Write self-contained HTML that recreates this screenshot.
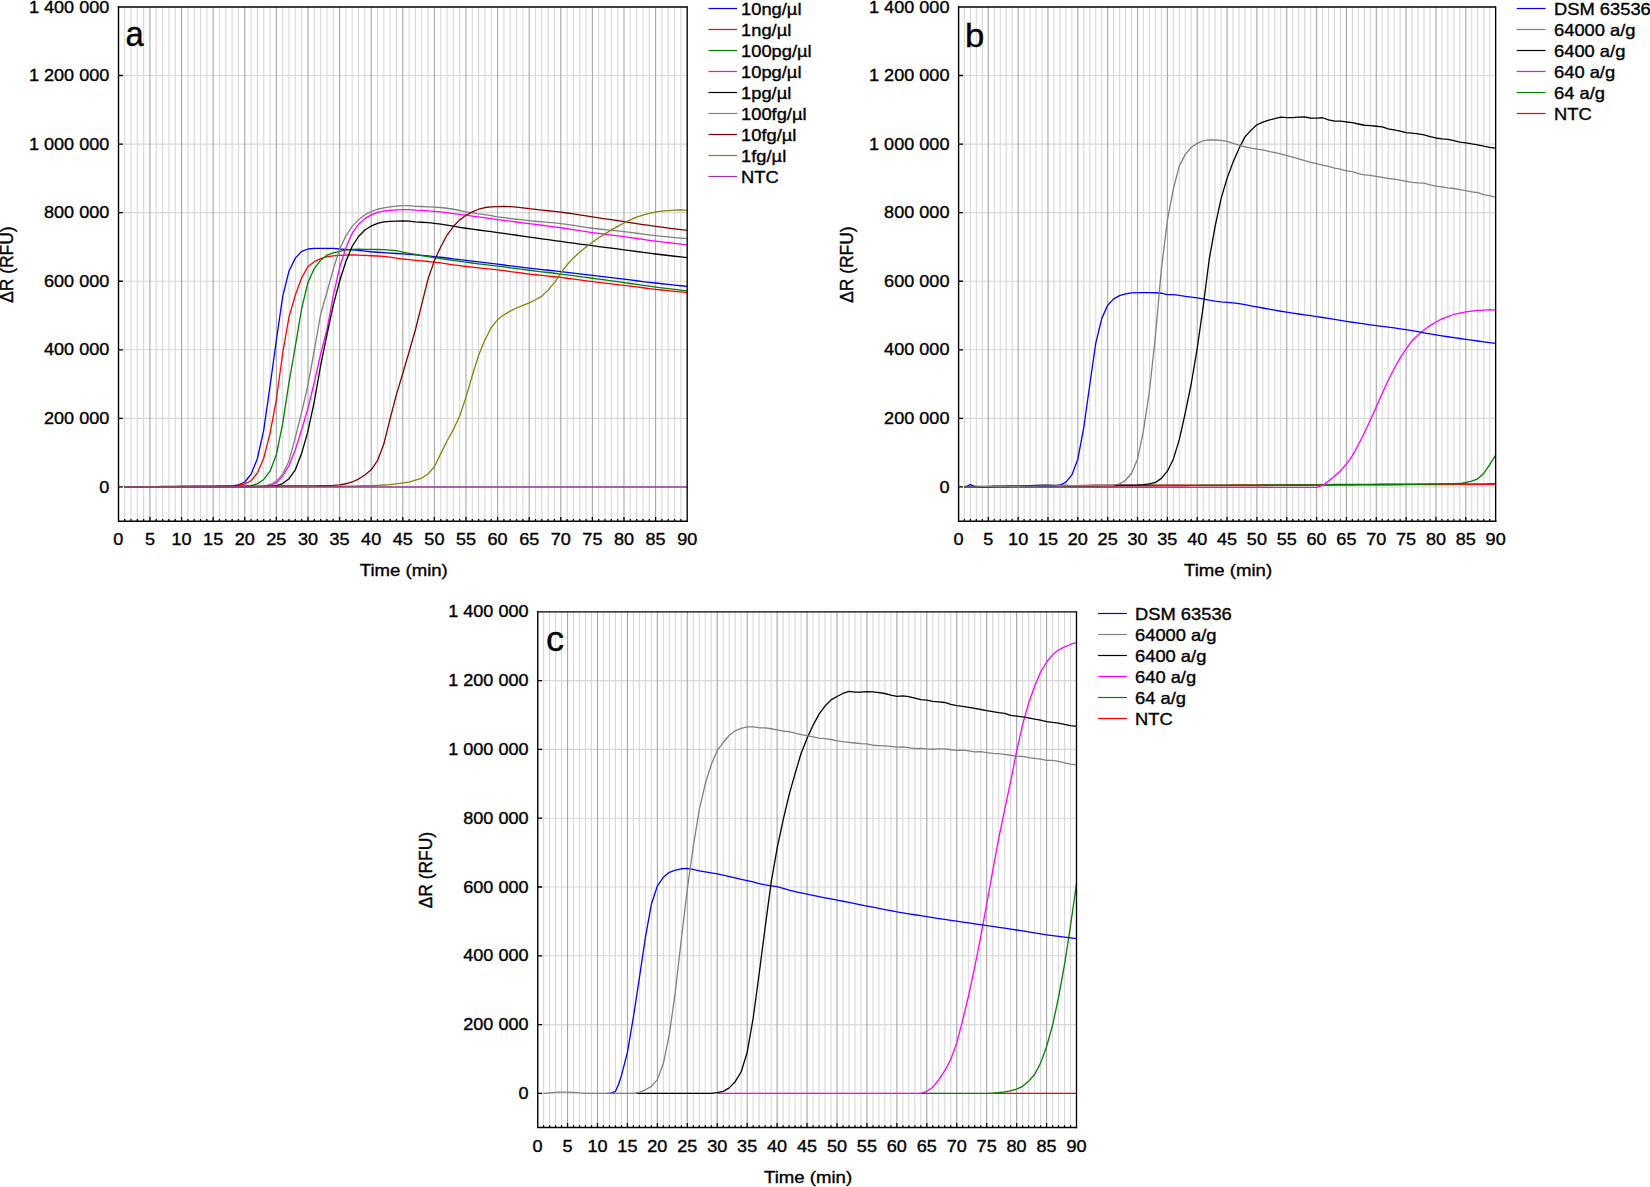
<!DOCTYPE html>
<html><head><meta charset="utf-8"><title>Figure</title>
<style>
html,body{margin:0;padding:0;background:#fff;}
body{width:1650px;height:1187px;overflow:hidden;}
svg{display:block;font-family:"Liberation Sans",Arial,Helvetica,sans-serif;fill:#000;}
text{stroke:#000;stroke-width:0.35px;}
</style></head><body>
<svg width="1650" height="1187" viewBox="0 0 1650 1187">
<rect width="1650" height="1187" fill="#fff"/>
<path d="M124.67 6.95V521.3M130.99 6.95V521.3M137.31 6.95V521.3M143.63 6.95V521.3M156.27 6.95V521.3M162.59 6.95V521.3M168.91 6.95V521.3M175.24 6.95V521.3M187.88 6.95V521.3M194.2 6.95V521.3M200.52 6.95V521.3M206.84 6.95V521.3M219.48 6.95V521.3M225.8 6.95V521.3M232.12 6.95V521.3M238.44 6.95V521.3M251.08 6.95V521.3M257.4 6.95V521.3M263.72 6.95V521.3M270.04 6.95V521.3M282.68 6.95V521.3M289 6.95V521.3M295.33 6.95V521.3M301.65 6.95V521.3M314.29 6.95V521.3M320.61 6.95V521.3M326.93 6.95V521.3M333.25 6.95V521.3M345.89 6.95V521.3M352.21 6.95V521.3M358.53 6.95V521.3M364.85 6.95V521.3M377.49 6.95V521.3M383.81 6.95V521.3M390.13 6.95V521.3M396.45 6.95V521.3M409.1 6.95V521.3M415.42 6.95V521.3M421.74 6.95V521.3M428.06 6.95V521.3M440.7 6.95V521.3M447.02 6.95V521.3M453.34 6.95V521.3M459.66 6.95V521.3M472.3 6.95V521.3M478.62 6.95V521.3M484.94 6.95V521.3M491.26 6.95V521.3M503.9 6.95V521.3M510.22 6.95V521.3M516.55 6.95V521.3M522.87 6.95V521.3M535.51 6.95V521.3M541.83 6.95V521.3M548.15 6.95V521.3M554.47 6.95V521.3M567.11 6.95V521.3M573.43 6.95V521.3M579.75 6.95V521.3M586.07 6.95V521.3M598.71 6.95V521.3M605.03 6.95V521.3M611.35 6.95V521.3M617.67 6.95V521.3M630.32 6.95V521.3M636.64 6.95V521.3M642.96 6.95V521.3M649.28 6.95V521.3M661.92 6.95V521.3M668.24 6.95V521.3M674.56 6.95V521.3M680.88 6.95V521.3" stroke="#d8d8d8" stroke-width="1.1" fill="none"/>
<path d="M118.35 486.95H687.2M118.35 418.38H687.2M118.35 349.81H687.2M118.35 281.24H687.2M118.35 212.66H687.2M118.35 144.09H687.2M118.35 75.52H687.2" stroke="#d8d8d8" stroke-width="1.1" fill="none"/>
<path d="M149.95 6.95V521.3M181.56 6.95V521.3M213.16 6.95V521.3M244.76 6.95V521.3M276.36 6.95V521.3M307.97 6.95V521.3M339.57 6.95V521.3M371.17 6.95V521.3M402.77 6.95V521.3M434.38 6.95V521.3M465.98 6.95V521.3M497.58 6.95V521.3M529.19 6.95V521.3M560.79 6.95V521.3M592.39 6.95V521.3M623.99 6.95V521.3M655.6 6.95V521.3" stroke="#a6a6a6" stroke-width="1.1" fill="none"/>
<g fill="none" stroke-width="1.3" stroke-linejoin="round" stroke-linecap="butt">
<path d="M124.67 486.95L130.99 486.95L137.31 486.94L143.63 486.93L149.95 486.91L156.27 486.89L162.59 486.86L168.91 486.84L175.24 486.81L181.56 486.78L187.88 486.75L194.2 486.71L200.52 486.66L206.84 486.6L213.16 486.53L219.48 486.44L225.8 486.26L232.12 485.92L238.44 484.89L244.76 481.98L251.08 474.26L257.4 458.49L263.72 430.04L270.04 386.15L276.36 340.21L282.68 296.66L289 270.95L295.33 258.09L301.65 251.41L307.97 249.01L314.29 248.32L320.61 248.32L326.93 248.32L333.25 248.32L339.57 249.01L345.89 249.41L352.21 249.8L358.53 250.4L364.85 251.11L371.17 251.75L377.49 252.24L383.81 252.68L390.13 253.08L396.45 253.5L402.77 253.94L409.1 254.42L415.42 254.9L421.74 255.41L428.06 255.96L434.38 256.55L440.7 257.23L447.02 258.01L453.34 258.83L459.66 259.66L465.98 260.46L472.3 261.21L478.62 261.95L484.94 262.69L491.26 263.43L497.58 264.2L503.9 264.99L510.22 265.81L516.55 266.63L522.87 267.44L529.19 268.21L535.51 268.92L541.83 269.6L548.15 270.27L554.47 270.94L560.79 271.64L567.11 272.37L573.43 273.12L579.75 273.88L586.07 274.65L592.39 275.41L598.71 276.16L605.03 276.91L611.35 277.67L617.67 278.42L623.99 279.18L630.32 279.95L636.64 280.73L642.96 281.52L649.28 282.28L655.6 283.02L661.92 283.73L668.24 284.42L674.56 285.09L680.88 285.74L687.2 286.38" stroke="#0000ff"/>
<path d="M124.67 486.95L130.99 486.92L137.31 486.89L143.63 486.86L149.95 486.82L156.27 486.78L162.59 486.74L168.91 486.7L175.24 486.65L181.56 486.61L187.88 486.56L194.2 486.52L200.52 486.47L206.84 486.42L213.16 486.35L219.48 486.26L225.8 486.14L232.12 485.92L238.44 485.24L244.76 483.86L251.08 480.78L257.4 472.89L263.72 458.15L270.04 433.29L276.36 399.52L282.68 353.24L289 316.89L295.33 294.95L301.65 277.81L307.97 266.49L314.29 261.69L320.61 258.61L326.93 256.72L333.25 255.86L339.57 255.35L345.89 255.07L352.21 254.94L358.53 255.08L364.85 255.4L371.17 255.73L377.49 256L383.81 256.34L390.13 257.07L396.45 258.09L402.77 259.02L409.1 259.71L415.42 260.32L421.74 260.9L428.06 261.5L434.38 262.17L440.7 262.97L447.02 263.85L453.34 264.77L459.66 265.67L465.98 266.49L472.3 267.22L478.62 267.89L484.94 268.54L491.26 269.21L497.58 269.92L503.9 270.71L510.22 271.55L516.55 272.41L522.87 273.25L529.19 274.04L535.51 274.75L541.83 275.42L548.15 276.07L554.47 276.75L560.79 277.46L567.11 278.26L573.43 279.1L579.75 279.97L586.07 280.83L592.39 281.65L598.71 282.41L605.03 283.15L611.35 283.87L617.67 284.6L623.99 285.35L630.32 286.13L636.64 286.95L642.96 287.76L649.28 288.55L655.6 289.29L661.92 289.99L668.24 290.67L674.56 291.33L680.88 291.95L687.2 292.55" stroke="#ff0000"/>
<path d="M124.67 486.95L130.99 486.93L137.31 486.91L143.63 486.9L149.95 486.88L156.27 486.86L162.59 486.84L168.91 486.82L175.24 486.8L181.56 486.78L187.88 486.76L194.2 486.75L200.52 486.73L206.84 486.72L213.16 486.7L219.48 486.68L225.8 486.65L232.12 486.61L238.44 486.5L244.76 486.26L251.08 485.58L257.4 483.86L263.72 479.41L270.04 471.18L276.36 454.72L282.68 423.69L289 382.38L295.33 346.38L301.65 308.49L307.97 282.44L314.29 268.55L320.61 260.15L326.93 255.18L333.25 252.92L339.57 251.27L345.89 250.14L352.21 249.52L358.53 249.25L364.85 249.28L371.17 249.35L377.49 249.48L383.81 249.69L390.13 250.07L396.45 250.72L402.77 252.09L409.1 253.3L415.42 254.44L421.74 255.53L428.06 256.57L434.38 257.58L440.7 258.56L447.02 259.51L453.34 260.42L459.66 261.31L465.98 262.17L472.3 263L478.62 263.8L484.94 264.58L491.26 265.36L497.58 266.15L503.9 266.97L510.22 267.8L516.55 268.64L522.87 269.46L529.19 270.26L535.51 271.03L541.83 271.78L548.15 272.51L554.47 273.26L560.79 274.04L567.11 274.85L573.43 275.68L579.75 276.53L586.07 277.39L592.39 278.25L598.71 279.11L605.03 279.98L611.35 280.85L617.67 281.73L623.99 282.61L630.32 283.5L636.64 284.42L642.96 285.33L649.28 286.22L655.6 287.06L661.92 287.87L668.24 288.65L674.56 289.41L680.88 290.14L687.2 290.84" stroke="#008000"/>
<path d="M124.67 486.95L130.99 486.95L137.31 486.95L143.63 486.95L149.95 486.94L156.27 486.94L162.59 486.94L168.91 486.93L175.24 486.93L181.56 486.92L187.88 486.91L194.2 486.9L200.52 486.89L206.84 486.88L213.16 486.87L219.48 486.85L225.8 486.84L232.12 486.82L238.44 486.8L244.76 486.78L251.08 486.71L257.4 486.54L263.72 486.26L270.04 485.24L276.36 482.84L282.68 475.98L289 465.69L295.33 449.58L301.65 429.69L307.97 408.26L314.29 382.38L320.61 354.26L326.93 329.75L333.25 295.98L339.57 267.52L345.89 247.81L352.21 233.24L358.53 224.32L364.85 218.63L371.17 214.82L377.49 212.32L383.81 211.02L390.13 210.37L396.45 209.92L402.77 209.61L409.1 209.61L415.42 210.13L421.74 210.44L428.06 210.78L434.38 211.29L440.7 211.95L447.02 212.7L453.34 213.52L459.66 214.36L465.98 215.2L472.3 216.04L478.62 216.91L484.94 217.79L491.26 218.66L497.58 219.52L503.9 220.36L510.22 221.18L516.55 222L522.87 222.82L529.19 223.64L535.51 224.45L541.83 225.25L548.15 226.06L554.47 226.89L560.79 227.75L567.11 228.67L573.43 229.65L579.75 230.64L586.07 231.62L592.39 232.55L598.71 233.42L605.03 234.25L611.35 235.07L617.67 235.89L623.99 236.73L630.32 237.61L636.64 238.5L642.96 239.4L649.28 240.28L655.6 241.12L661.92 241.92L668.24 242.7L674.56 243.46L680.88 244.19L687.2 244.89" stroke="#ff00ff"/>
<path d="M124.67 486.95L130.99 486.95L137.31 486.95L143.63 486.95L149.95 486.95L156.27 486.94L162.59 486.94L168.91 486.94L175.24 486.93L181.56 486.93L187.88 486.92L194.2 486.92L200.52 486.91L206.84 486.9L213.16 486.89L219.48 486.88L225.8 486.86L232.12 486.85L238.44 486.83L244.76 486.82L251.08 486.8L257.4 486.78L263.72 486.65L270.04 486.31L276.36 485.75L282.68 483.52L289 478.72L295.33 469.81L301.65 453.35L307.97 431.06L314.29 401.58L320.61 365.58L326.93 334.82L333.25 305.41L339.57 281.24L345.89 261.52L352.21 246.26L358.53 236.49L364.85 229.98L371.17 226.04L377.49 223.46L383.81 221.92L390.13 221.3L396.45 221.03L402.77 220.93L409.1 221.03L415.42 221.92L421.74 222.26L428.06 222.71L434.38 223.29L440.7 224.11L447.02 225.1L453.34 226.18L459.66 227.27L465.98 228.26L472.3 229.16L478.62 230.01L484.94 230.85L491.26 231.69L497.58 232.55L503.9 233.44L510.22 234.35L516.55 235.26L522.87 236.18L529.19 237.08L535.51 237.96L541.83 238.85L548.15 239.73L554.47 240.6L560.79 241.46L567.11 242.33L573.43 243.18L579.75 244.03L586.07 244.88L592.39 245.72L598.71 246.54L605.03 247.35L611.35 248.16L617.67 248.97L623.99 249.8L630.32 250.64L636.64 251.51L642.96 252.37L649.28 253.21L655.6 254.01L661.92 254.77L668.24 255.51L674.56 256.23L680.88 256.92L687.2 257.58" stroke="#000000"/>
<path d="M124.67 486.95L130.99 486.95L137.31 486.95L143.63 486.95L149.95 486.94L156.27 486.94L162.59 486.94L168.91 486.93L175.24 486.93L181.56 486.92L187.88 486.91L194.2 486.9L200.52 486.89L206.84 486.88L213.16 486.87L219.48 486.85L225.8 486.84L232.12 486.82L238.44 486.8L244.76 486.78L251.08 486.71L257.4 486.55L263.72 486.26L270.04 484.72L276.36 481.12L282.68 474.09L289 461.06L295.33 437.41L301.65 412.38L307.97 384.78L314.29 350.49L320.61 314.49L326.93 292.21L333.25 269.24L339.57 249.52L345.89 235.77L352.21 226.38L358.53 219.86L364.85 214.82L371.17 211.64L377.49 209.24L383.81 207.86L390.13 206.84L396.45 206.15L402.77 205.57L409.1 205.57L415.42 206.32L421.74 206.49L428.06 206.84L434.38 207.18L440.7 207.52L447.02 208.24L453.34 209.24L459.66 210.49L465.98 211.81L472.3 212.89L478.62 213.86L484.94 214.68L491.26 215.54L497.58 216.78L503.9 217.71L510.22 218.52L516.55 219.26L522.87 219.95L529.19 220.62L535.51 221.25L541.83 221.82L548.15 222.37L554.47 222.96L560.79 223.64L567.11 224.46L573.43 225.42L579.75 226.42L586.07 227.4L592.39 228.26L598.71 229L605.03 229.67L611.35 230.31L617.67 230.96L623.99 231.66L630.32 232.43L636.64 233.25L642.96 234.09L649.28 234.89L655.6 235.64L661.92 236.32L668.24 236.97L674.56 237.59L680.88 238.17L687.2 238.72" stroke="#808080"/>
<path d="M124.67 486.95L130.99 486.86L137.31 486.77L143.63 486.69L149.95 486.61L156.27 486.53L162.59 486.45L168.91 486.37L175.24 486.31L181.56 486.26L187.88 486.24L194.2 486.21L200.52 486.19L206.84 486.18L213.16 486.16L219.48 486.15L225.8 486.14L232.12 486.12L238.44 486.11L244.76 486.09L251.08 486.08L257.4 486.06L263.72 486.05L270.04 486.04L276.36 486.03L282.68 486.01L289 486L295.33 485.98L301.65 485.95L307.97 485.92L314.29 485.86L320.61 485.74L326.93 485.58L333.25 485.33L339.57 484.89L345.89 483.76L352.21 481.98L358.53 479.06L364.85 474.95L371.17 469.81L377.49 460.72L383.81 444.09L390.13 418.55L396.45 394.38L402.77 373.46L409.1 351.86L415.42 329.75L421.74 304.34L428.06 278.94L434.38 260.66L440.7 246.95L447.02 235.05L453.34 226.55L459.66 219.86L465.98 215.2L472.3 211.81L478.62 209.24L484.94 207.52L491.26 206.84L497.58 206.56L503.9 206.49L510.22 206.66L516.55 207.18L522.87 207.86L529.19 208.72L535.51 209.43L541.83 210.09L548.15 210.76L554.47 211.42L560.79 212.15L567.11 213L573.43 213.94L579.75 214.94L586.07 215.94L592.39 216.92L598.71 217.85L605.03 218.78L611.35 219.71L617.67 220.64L623.99 221.58L630.32 222.55L636.64 223.54L642.96 224.52L649.28 225.48L655.6 226.38L661.92 227.23L668.24 228.04L674.56 228.83L680.88 229.58L687.2 230.29" stroke="#800000"/>
<path d="M124.67 486.95L130.99 486.95L137.31 486.95L143.63 486.94L149.95 486.94L156.27 486.93L162.59 486.93L168.91 486.92L175.24 486.91L181.56 486.9L187.88 486.89L194.2 486.88L200.52 486.87L206.84 486.86L213.16 486.85L219.48 486.83L225.8 486.82L232.12 486.81L238.44 486.79L244.76 486.78L251.08 486.76L257.4 486.75L263.72 486.73L270.04 486.7L276.36 486.68L282.68 486.65L289 486.62L295.33 486.59L301.65 486.56L307.97 486.52L314.29 486.47L320.61 486.43L326.93 486.38L333.25 486.32L339.57 486.26L345.89 486.19L352.21 486.08L358.53 485.94L364.85 485.77L371.17 485.58L377.49 485.33L383.81 484.99L390.13 484.55L396.45 483.79L402.77 482.9L409.1 482.22L415.42 480.2L421.74 478.04L428.06 473.92L434.38 466.72L440.7 453.86L447.02 441.01L453.34 429.69L459.66 416.08L465.98 397.12L472.3 375.52L478.62 355.29L484.94 339.86L491.26 327.52L497.58 319.81L503.9 314.84L510.22 311.06L516.55 307.98L522.87 305.41L529.19 302.84L535.51 299.75L541.83 296.08L548.15 290.15L554.47 282.61L560.79 273.18L567.11 264.78L573.43 257.92L579.75 252.09L586.07 246.95L592.39 242.32L598.71 237.69L605.03 233.92L611.35 229.94L617.67 226.38L623.99 222.95L630.32 219.86L636.64 217.22L642.96 215.06L649.28 213.35L655.6 211.81L661.92 211.12L668.24 210.61L674.56 210.13L680.88 209.78L687.2 210.47" stroke="#84840a"/>
<path d="M124.67 486.95L687.2 486.95" stroke="#9c329c" stroke-width="1.65"/>
</g>
<path d="M118.5 6.95H687.2V521.3" stroke="#000" stroke-width="1.35" fill="none" stroke-linecap="square"/>
<path d="M118.5 6.95V521.3H687.2" stroke="#000" stroke-width="1.4" fill="none" stroke-linecap="square"/>
<path d="M118.5 486.95h4.4M118.5 418.38h4.4M118.5 349.81h4.4M118.5 281.24h4.4M118.5 212.66h4.4M118.5 144.09h4.4M118.5 75.52h4.4M124.67 521.3v-2.3M130.99 521.3v-2.3M137.31 521.3v-2.3M143.63 521.3v-2.3M149.95 521.3v-4.4M156.27 521.3v-2.3M162.59 521.3v-2.3M168.91 521.3v-2.3M175.24 521.3v-2.3M181.56 521.3v-4.4M187.88 521.3v-2.3M194.2 521.3v-2.3M200.52 521.3v-2.3M206.84 521.3v-2.3M213.16 521.3v-4.4M219.48 521.3v-2.3M225.8 521.3v-2.3M232.12 521.3v-2.3M238.44 521.3v-2.3M244.76 521.3v-4.4M251.08 521.3v-2.3M257.4 521.3v-2.3M263.72 521.3v-2.3M270.04 521.3v-2.3M276.36 521.3v-4.4M282.68 521.3v-2.3M289 521.3v-2.3M295.33 521.3v-2.3M301.65 521.3v-2.3M307.97 521.3v-4.4M314.29 521.3v-2.3M320.61 521.3v-2.3M326.93 521.3v-2.3M333.25 521.3v-2.3M339.57 521.3v-4.4M345.89 521.3v-2.3M352.21 521.3v-2.3M358.53 521.3v-2.3M364.85 521.3v-2.3M371.17 521.3v-4.4M377.49 521.3v-2.3M383.81 521.3v-2.3M390.13 521.3v-2.3M396.45 521.3v-2.3M402.77 521.3v-4.4M409.1 521.3v-2.3M415.42 521.3v-2.3M421.74 521.3v-2.3M428.06 521.3v-2.3M434.38 521.3v-4.4M440.7 521.3v-2.3M447.02 521.3v-2.3M453.34 521.3v-2.3M459.66 521.3v-2.3M465.98 521.3v-4.4M472.3 521.3v-2.3M478.62 521.3v-2.3M484.94 521.3v-2.3M491.26 521.3v-2.3M497.58 521.3v-4.4M503.9 521.3v-2.3M510.22 521.3v-2.3M516.55 521.3v-2.3M522.87 521.3v-2.3M529.19 521.3v-4.4M535.51 521.3v-2.3M541.83 521.3v-2.3M548.15 521.3v-2.3M554.47 521.3v-2.3M560.79 521.3v-4.4M567.11 521.3v-2.3M573.43 521.3v-2.3M579.75 521.3v-2.3M586.07 521.3v-2.3M592.39 521.3v-4.4M598.71 521.3v-2.3M605.03 521.3v-2.3M611.35 521.3v-2.3M617.67 521.3v-2.3M623.99 521.3v-4.4M630.32 521.3v-2.3M636.64 521.3v-2.3M642.96 521.3v-2.3M649.28 521.3v-2.3M655.6 521.3v-4.4M661.92 521.3v-2.3M668.24 521.3v-2.3M674.56 521.3v-2.3M680.88 521.3v-2.3" stroke="#000" stroke-width="1.3" fill="none"/>
<text transform="translate(109.35 492.55) scale(1.07 1)" font-size="16.9" text-anchor="end">0</text>
<text transform="translate(109.35 423.98) scale(1.07 1)" font-size="16.9" text-anchor="end">200 000</text>
<text transform="translate(109.35 355.41) scale(1.07 1)" font-size="16.9" text-anchor="end">400 000</text>
<text transform="translate(109.35 286.84) scale(1.07 1)" font-size="16.9" text-anchor="end">600 000</text>
<text transform="translate(109.35 218.26) scale(1.07 1)" font-size="16.9" text-anchor="end">800 000</text>
<text transform="translate(109.35 149.69) scale(1.07 1)" font-size="16.9" text-anchor="end">1 000 000</text>
<text transform="translate(109.35 81.12) scale(1.07 1)" font-size="16.9" text-anchor="end">1 200 000</text>
<text transform="translate(109.35 12.55) scale(1.07 1)" font-size="16.9" text-anchor="end">1 400 000</text>
<text transform="translate(118.35 545.3) scale(1.07 1)" font-size="16.9" text-anchor="middle">0</text>
<text transform="translate(149.95 545.3) scale(1.07 1)" font-size="16.9" text-anchor="middle">5</text>
<text transform="translate(181.56 545.3) scale(1.07 1)" font-size="16.9" text-anchor="middle">10</text>
<text transform="translate(213.16 545.3) scale(1.07 1)" font-size="16.9" text-anchor="middle">15</text>
<text transform="translate(244.76 545.3) scale(1.07 1)" font-size="16.9" text-anchor="middle">20</text>
<text transform="translate(276.36 545.3) scale(1.07 1)" font-size="16.9" text-anchor="middle">25</text>
<text transform="translate(307.97 545.3) scale(1.07 1)" font-size="16.9" text-anchor="middle">30</text>
<text transform="translate(339.57 545.3) scale(1.07 1)" font-size="16.9" text-anchor="middle">35</text>
<text transform="translate(371.17 545.3) scale(1.07 1)" font-size="16.9" text-anchor="middle">40</text>
<text transform="translate(402.77 545.3) scale(1.07 1)" font-size="16.9" text-anchor="middle">45</text>
<text transform="translate(434.38 545.3) scale(1.07 1)" font-size="16.9" text-anchor="middle">50</text>
<text transform="translate(465.98 545.3) scale(1.07 1)" font-size="16.9" text-anchor="middle">55</text>
<text transform="translate(497.58 545.3) scale(1.07 1)" font-size="16.9" text-anchor="middle">60</text>
<text transform="translate(529.19 545.3) scale(1.07 1)" font-size="16.9" text-anchor="middle">65</text>
<text transform="translate(560.79 545.3) scale(1.07 1)" font-size="16.9" text-anchor="middle">70</text>
<text transform="translate(592.39 545.3) scale(1.07 1)" font-size="16.9" text-anchor="middle">75</text>
<text transform="translate(623.99 545.3) scale(1.07 1)" font-size="16.9" text-anchor="middle">80</text>
<text transform="translate(655.6 545.3) scale(1.07 1)" font-size="16.9" text-anchor="middle">85</text>
<text transform="translate(687.2 545.3) scale(1.07 1)" font-size="16.9" text-anchor="middle">90</text>
<text transform="translate(403.78 576.4) scale(1.1 1)" font-size="16.9" text-anchor="middle">Time (min)</text>
<text transform="translate(12.7 264.62) rotate(-90) scale(1.03 1.07)" font-size="16.9" text-anchor="middle">ΔR (RFU)</text>
<text transform="translate(125.4 45.6) scale(0.96 1)" font-size="34.2" text-anchor="start" stroke-width="0.8">a</text>
<path d="M708.5 8.5H737" stroke="#0000ff" stroke-width="1.2"/>
<text transform="translate(741 14.95) scale(1.085 1)" font-size="16.9" text-anchor="start">10ng/µl</text>
<path d="M708.5 29.5H737" stroke="#ff0000" stroke-width="1.2"/>
<text transform="translate(741 35.95) scale(1.085 1)" font-size="16.9" text-anchor="start">1ng/µl</text>
<path d="M708.5 50.5H737" stroke="#008000" stroke-width="1.2"/>
<text transform="translate(741 56.95) scale(1.085 1)" font-size="16.9" text-anchor="start">100pg/µl</text>
<path d="M708.5 71.5H737" stroke="#ff00ff" stroke-width="1.2"/>
<text transform="translate(741 77.95) scale(1.085 1)" font-size="16.9" text-anchor="start">10pg/µl</text>
<path d="M708.5 92.5H737" stroke="#000000" stroke-width="1.2"/>
<text transform="translate(741 98.95) scale(1.085 1)" font-size="16.9" text-anchor="start">1pg/µl</text>
<path d="M708.5 113.5H737" stroke="#808080" stroke-width="1.2"/>
<text transform="translate(741 119.95) scale(1.085 1)" font-size="16.9" text-anchor="start">100fg/µl</text>
<path d="M708.5 134.5H737" stroke="#800000" stroke-width="1.2"/>
<text transform="translate(741 140.95) scale(1.085 1)" font-size="16.9" text-anchor="start">10fg/µl</text>
<path d="M708.5 155.5H737" stroke="#84840a" stroke-width="1.2"/>
<text transform="translate(741 161.95) scale(1.085 1)" font-size="16.9" text-anchor="start">1fg/µl</text>
<path d="M708.5 176.5H737" stroke="#9c329c" stroke-width="1.2"/>
<text transform="translate(741 182.95) scale(1.085 1)" font-size="16.9" text-anchor="start">NTC</text>
<path d="M964.42 6.95V521.3M970.39 6.95V521.3M976.36 6.95V521.3M982.33 6.95V521.3M994.26 6.95V521.3M1000.23 6.95V521.3M1006.2 6.95V521.3M1012.17 6.95V521.3M1024.11 6.95V521.3M1030.08 6.95V521.3M1036.05 6.95V521.3M1042.01 6.95V521.3M1053.95 6.95V521.3M1059.92 6.95V521.3M1065.89 6.95V521.3M1071.86 6.95V521.3M1083.8 6.95V521.3M1089.77 6.95V521.3M1095.73 6.95V521.3M1101.7 6.95V521.3M1113.64 6.95V521.3M1119.61 6.95V521.3M1125.58 6.95V521.3M1131.55 6.95V521.3M1143.49 6.95V521.3M1149.45 6.95V521.3M1155.42 6.95V521.3M1161.39 6.95V521.3M1173.33 6.95V521.3M1179.3 6.95V521.3M1185.27 6.95V521.3M1191.24 6.95V521.3M1203.17 6.95V521.3M1209.14 6.95V521.3M1215.11 6.95V521.3M1221.08 6.95V521.3M1233.02 6.95V521.3M1238.99 6.95V521.3M1244.96 6.95V521.3M1250.93 6.95V521.3M1262.86 6.95V521.3M1268.83 6.95V521.3M1274.8 6.95V521.3M1280.77 6.95V521.3M1292.71 6.95V521.3M1298.68 6.95V521.3M1304.65 6.95V521.3M1310.61 6.95V521.3M1322.55 6.95V521.3M1328.52 6.95V521.3M1334.49 6.95V521.3M1340.46 6.95V521.3M1352.4 6.95V521.3M1358.37 6.95V521.3M1364.33 6.95V521.3M1370.3 6.95V521.3M1382.24 6.95V521.3M1388.21 6.95V521.3M1394.18 6.95V521.3M1400.15 6.95V521.3M1412.09 6.95V521.3M1418.05 6.95V521.3M1424.02 6.95V521.3M1429.99 6.95V521.3M1441.93 6.95V521.3M1447.9 6.95V521.3M1453.87 6.95V521.3M1459.84 6.95V521.3M1471.77 6.95V521.3M1477.74 6.95V521.3M1483.71 6.95V521.3M1489.68 6.95V521.3" stroke="#d8d8d8" stroke-width="1.1" fill="none"/>
<path d="M958.45 486.95H1495.65M958.45 418.38H1495.65M958.45 349.81H1495.65M958.45 281.24H1495.65M958.45 212.66H1495.65M958.45 144.09H1495.65M958.45 75.52H1495.65" stroke="#d8d8d8" stroke-width="1.1" fill="none"/>
<path d="M988.29 6.95V521.3M1018.14 6.95V521.3M1047.98 6.95V521.3M1077.83 6.95V521.3M1107.67 6.95V521.3M1137.52 6.95V521.3M1167.36 6.95V521.3M1197.21 6.95V521.3M1227.05 6.95V521.3M1256.89 6.95V521.3M1286.74 6.95V521.3M1316.58 6.95V521.3M1346.43 6.95V521.3M1376.27 6.95V521.3M1406.12 6.95V521.3M1435.96 6.95V521.3M1465.81 6.95V521.3" stroke="#a6a6a6" stroke-width="1.1" fill="none"/>
<g fill="none" stroke-width="1.3" stroke-linejoin="round" stroke-linecap="butt">
<path d="M964.42 486.95L970.39 486.86L976.36 486.77L982.33 486.69L988.29 486.6L994.26 486.52L1000.23 486.45L1006.2 486.38L1012.17 486.32L1018.14 486.26L1024.11 486.22L1030.08 486.17L1036.05 486.12L1042.01 486.08L1047.98 486.04L1053.95 486L1059.92 485.96L1065.89 485.92L1071.86 485.89L1077.83 485.85L1083.8 485.82L1089.77 485.79L1095.73 485.76L1101.7 485.73L1107.67 485.7L1113.64 485.68L1119.61 485.65L1125.58 485.63L1131.55 485.6L1137.52 485.58L1143.49 485.56L1149.45 485.54L1155.42 485.52L1161.39 485.5L1167.36 485.48L1173.33 485.47L1179.3 485.45L1185.27 485.44L1191.24 485.42L1197.21 485.41L1203.17 485.39L1209.14 485.38L1215.11 485.36L1221.08 485.35L1227.05 485.33L1233.02 485.32L1238.99 485.3L1244.96 485.28L1250.93 485.26L1256.89 485.24L1262.86 485.21L1268.83 485.18L1274.8 485.16L1280.77 485.12L1286.74 485.09L1292.71 485.06L1298.68 485.02L1304.65 484.98L1310.61 484.95L1316.58 484.91L1322.55 484.87L1328.52 484.83L1334.49 484.79L1340.46 484.76L1346.43 484.72L1352.4 484.68L1358.37 484.65L1364.33 484.61L1370.3 484.58L1376.27 484.55L1382.24 484.52L1388.21 484.49L1394.18 484.46L1400.15 484.43L1406.12 484.41L1412.09 484.38L1418.05 484.35L1424.02 484.33L1429.99 484.3L1435.96 484.27L1441.93 484.25L1447.9 484.22L1453.87 484.2L1459.84 484.17L1465.81 484.15L1471.77 484.13L1477.74 484.1L1483.71 484.08L1489.68 484.06L1495.65 484.04" stroke="#ff0000" stroke-width="1.9"/>
<path d="M964.42 486.95L970.39 486.86L976.36 486.77L982.33 486.69L988.29 486.6L994.26 486.52L1000.23 486.45L1006.2 486.38L1012.17 486.32L1018.14 486.26L1024.11 486.22L1030.08 486.17L1036.05 486.13L1042.01 486.09L1047.98 486.05L1053.95 486.01L1059.92 485.97L1065.89 485.94L1071.86 485.91L1077.83 485.87L1083.8 485.84L1089.77 485.81L1095.73 485.78L1101.7 485.75L1107.67 485.72L1113.64 485.7L1119.61 485.67L1125.58 485.64L1131.55 485.61L1137.52 485.58L1143.49 485.55L1149.45 485.52L1155.42 485.49L1161.39 485.46L1167.36 485.43L1173.33 485.4L1179.3 485.37L1185.27 485.35L1191.24 485.32L1197.21 485.29L1203.17 485.27L1209.14 485.24L1215.11 485.21L1221.08 485.19L1227.05 485.16L1233.02 485.13L1238.99 485.11L1244.96 485.08L1250.93 485.06L1256.89 485.03L1262.86 485.01L1268.83 484.98L1274.8 484.96L1280.77 484.94L1286.74 484.91L1292.71 484.89L1298.68 484.87L1304.65 484.85L1310.61 484.83L1316.58 484.81L1322.55 484.79L1328.52 484.77L1334.49 484.75L1340.46 484.72L1346.43 484.7L1352.4 484.67L1358.37 484.64L1364.33 484.61L1370.3 484.58L1376.27 484.55L1382.24 484.52L1388.21 484.48L1394.18 484.44L1400.15 484.39L1406.12 484.35L1412.09 484.3L1418.05 484.24L1424.02 484.18L1429.99 484.11L1435.96 484.04L1441.93 483.96L1447.9 483.87L1453.87 483.74L1459.84 483.52L1465.81 482.49L1471.77 481.12L1477.74 478.82L1483.71 473.41L1489.68 464.66L1495.65 455.06" stroke="#008000"/>
<path d="M964.42 487.29L970.39 487.29L976.36 487.29L982.33 487.29L988.29 487.29L994.26 487.29L1000.23 487.29L1006.2 487.29L1012.17 487.29L1018.14 487.29L1024.11 487.29L1030.08 487.29L1036.05 487.29L1042.01 487.29L1047.98 487.29L1053.95 487.29L1059.92 487.29L1065.89 487.29L1071.86 487.29L1077.83 487.29L1083.8 487.29L1089.77 487.29L1095.73 487.29L1101.7 487.29L1107.67 487.29L1113.64 487.29L1119.61 487.29L1125.58 487.29L1131.55 487.29L1137.52 487.29L1143.49 487.29L1149.45 487.29L1155.42 487.29L1161.39 487.29L1167.36 487.29L1173.33 487.29L1179.3 487.29L1185.27 487.29L1191.24 487.29L1197.21 487.29L1203.17 487.29L1209.14 487.29L1215.11 487.29L1221.08 487.29L1227.05 487.29L1233.02 487.29L1238.99 487.29L1244.96 487.29L1250.93 487.29L1256.89 487.29L1262.86 487.29L1268.83 487.29L1274.8 487.29L1280.77 487.29L1286.74 487.29L1292.71 487.29L1298.68 487.29L1304.65 487.29L1310.61 487.29L1316.58 487.29L1322.55 485.41L1328.52 481.12L1334.49 476.32L1340.46 470.84L1346.43 464.05L1352.4 455.58L1358.37 444.78L1364.33 432.95L1370.3 419.92L1376.27 406.89L1382.24 393.35L1388.21 380.32L1394.18 368.49L1400.15 357.86L1406.12 348.78L1412.09 340.69L1418.05 334.89L1424.02 330.06L1429.99 325.6L1435.96 322.04L1441.93 318.95L1447.9 316.55L1453.87 314.49L1459.84 313.12L1465.81 311.85L1471.77 311.06L1477.74 310.38L1483.71 310.04L1489.68 309.69L1495.65 310.04" stroke="#ff00ff"/>
<path d="M964.42 486.95L967.4 485.92L970.39 484.65L973.37 485.92L976.36 486.61L982.33 486.59L988.29 486.56L994.26 486.51L1000.23 486.45L1006.2 486.39L1012.17 486.32L1018.14 486.26L1024.11 486.22L1030.08 486.19L1036.05 486.15L1042.01 486.1L1047.98 486.03L1053.95 485.92L1059.92 485.24L1065.89 482.15L1071.86 474.95L1077.83 459.18L1083.8 427.29L1089.77 384.78L1095.73 343.29L1101.7 318.61L1107.67 305.24L1113.64 298.89L1119.61 295.64L1125.58 293.92L1131.55 292.89L1137.52 292.55L1143.49 292.55L1149.45 292.55L1155.42 292.75L1161.39 293.24L1167.36 294.61L1173.33 294.61L1179.3 295.31L1185.27 296.42L1191.24 297.13L1197.21 297.86L1203.17 298.96L1209.14 300.09L1215.11 301.03L1221.08 301.81L1227.05 302.32L1233.02 302.84L1238.99 303.66L1244.96 304.7L1250.93 305.85L1256.89 306.95L1262.86 308.01L1268.83 309.1L1274.8 310.19L1280.77 311.24L1286.74 312.23L1292.71 313.14L1298.68 314L1304.65 314.83L1310.61 315.67L1316.58 316.55L1322.55 317.49L1328.52 318.46L1334.49 319.45L1340.46 320.42L1346.43 321.35L1352.4 322.24L1358.37 323.1L1364.33 323.94L1370.3 324.77L1376.27 325.6L1382.24 326.41L1388.21 327.18L1394.18 327.96L1400.15 328.77L1406.12 329.65L1412.09 330.62L1418.05 331.69L1424.02 332.79L1429.99 333.88L1435.96 334.89L1441.93 335.84L1447.9 336.75L1453.87 337.64L1459.84 338.51L1465.81 339.35L1471.77 340.18L1477.74 340.99L1483.71 341.78L1489.68 342.54L1495.65 343.29" stroke="#0000ff"/>
<path d="M964.42 486.95L970.39 486.94L976.36 486.91L982.33 486.86L988.29 486.79L994.26 486.71L1000.23 486.61L1006.2 486.5L1012.17 486.39L1018.14 486.26L1024.11 486.03L1030.08 485.69L1036.05 485.37L1042.01 485.24L1047.98 485.26L1053.95 485.32L1059.92 485.41L1065.89 485.49L1071.86 485.55L1077.83 485.58L1083.8 485.57L1089.77 485.55L1095.73 485.52L1101.7 485.47L1107.67 485.41L1113.64 485.34L1119.61 485.25L1125.58 485.14L1131.55 485.03L1137.52 484.89L1143.49 484.55L1149.45 483.86L1155.42 482.49L1161.39 478.38L1167.36 471.18L1173.33 459.18L1179.3 439.64L1185.27 412.89L1191.24 383.75L1197.21 348.44L1203.17 306.61L1209.14 259.98L1215.11 226.38L1221.08 198.61L1227.05 178.38L1233.02 162.26L1238.99 148.55L1244.96 136.89L1250.93 130.38L1256.89 124.76L1262.86 122.15L1268.83 120.09L1274.8 118.72L1280.77 117.18L1286.74 117.69L1292.71 117.69L1298.68 117.18L1304.65 117.01L1310.61 118.17L1316.58 118.04L1322.55 117.76L1328.52 119.92L1334.49 121.12L1340.46 121.12L1346.43 121.98L1352.4 122.63L1358.37 124L1364.33 125.24L1370.3 125.65L1376.27 126.26L1382.24 126.95L1388.21 128.77L1394.18 129.86L1400.15 131.06L1406.12 132.54L1412.09 133.22L1418.05 133.81L1424.02 134.84L1429.99 136.55L1435.96 137.99L1441.93 138.95L1447.9 139.33L1453.87 140.66L1459.84 142.04L1465.81 142.86L1471.77 143.96L1477.74 144.78L1483.71 146.15L1489.68 147.35L1495.65 148.04" stroke="#000000"/>
<path d="M964.42 486.95L970.39 486.87L976.36 486.79L982.33 486.71L988.29 486.64L994.26 486.56L1000.23 486.49L1006.2 486.41L1012.17 486.34L1018.14 486.26L1024.11 486.19L1030.08 486.11L1036.05 486.04L1042.01 485.96L1047.98 485.89L1053.95 485.81L1059.92 485.75L1065.89 485.68L1071.86 485.63L1077.83 485.58L1083.8 485.54L1089.77 485.52L1095.73 485.49L1101.7 485.46L1107.67 485.41L1113.64 485.24L1119.61 483.86L1125.58 480.23L1131.55 473.24L1137.52 459.18L1143.49 430.38L1149.45 390.95L1155.42 336.09L1161.39 268.89L1167.36 220.72L1173.33 189.01L1179.3 165.86L1185.27 154.38L1191.24 147.28L1197.21 143.41L1203.17 140.73L1209.14 139.98L1215.11 139.98L1221.08 140.39L1227.05 141.45L1233.02 143.41L1238.99 145.12L1244.96 146.84L1250.93 148.21L1256.89 149.06L1262.86 149.92L1268.83 151.36L1274.8 152.66L1280.77 153.83L1286.74 155.58L1292.71 157.21L1298.68 158.84L1304.65 160.59L1310.61 162.26L1316.58 163.64L1322.55 165.18L1328.52 166.38L1334.49 168.09L1340.46 169.22L1346.43 170.84L1352.4 171.69L1358.37 173.58L1364.33 174.78L1370.3 175.29L1376.27 176.32L1382.24 177.35L1388.21 178.38L1394.18 179.06L1400.15 180.09L1406.12 181.46L1412.09 182.32L1418.05 182.84L1424.02 183.18L1429.99 184.89L1435.96 186.06L1441.93 186.95L1447.9 187.81L1453.87 188.49L1459.84 189.69L1465.81 190.55L1471.77 191.92L1477.74 192.57L1483.71 194.6L1489.68 195.69L1495.65 197.3" stroke="#808080"/>
</g>
<path d="M958.6 6.95H1495.65V521.3" stroke="#000" stroke-width="1.35" fill="none" stroke-linecap="square"/>
<path d="M958.6 6.95V521.3H1495.65" stroke="#000" stroke-width="1.4" fill="none" stroke-linecap="square"/>
<path d="M958.6 486.95h4.4M958.6 418.38h4.4M958.6 349.81h4.4M958.6 281.24h4.4M958.6 212.66h4.4M958.6 144.09h4.4M958.6 75.52h4.4M964.42 521.3v-2.3M970.39 521.3v-2.3M976.36 521.3v-2.3M982.33 521.3v-2.3M988.29 521.3v-4.4M994.26 521.3v-2.3M1000.23 521.3v-2.3M1006.2 521.3v-2.3M1012.17 521.3v-2.3M1018.14 521.3v-4.4M1024.11 521.3v-2.3M1030.08 521.3v-2.3M1036.05 521.3v-2.3M1042.01 521.3v-2.3M1047.98 521.3v-4.4M1053.95 521.3v-2.3M1059.92 521.3v-2.3M1065.89 521.3v-2.3M1071.86 521.3v-2.3M1077.83 521.3v-4.4M1083.8 521.3v-2.3M1089.77 521.3v-2.3M1095.73 521.3v-2.3M1101.7 521.3v-2.3M1107.67 521.3v-4.4M1113.64 521.3v-2.3M1119.61 521.3v-2.3M1125.58 521.3v-2.3M1131.55 521.3v-2.3M1137.52 521.3v-4.4M1143.49 521.3v-2.3M1149.45 521.3v-2.3M1155.42 521.3v-2.3M1161.39 521.3v-2.3M1167.36 521.3v-4.4M1173.33 521.3v-2.3M1179.3 521.3v-2.3M1185.27 521.3v-2.3M1191.24 521.3v-2.3M1197.21 521.3v-4.4M1203.17 521.3v-2.3M1209.14 521.3v-2.3M1215.11 521.3v-2.3M1221.08 521.3v-2.3M1227.05 521.3v-4.4M1233.02 521.3v-2.3M1238.99 521.3v-2.3M1244.96 521.3v-2.3M1250.93 521.3v-2.3M1256.89 521.3v-4.4M1262.86 521.3v-2.3M1268.83 521.3v-2.3M1274.8 521.3v-2.3M1280.77 521.3v-2.3M1286.74 521.3v-4.4M1292.71 521.3v-2.3M1298.68 521.3v-2.3M1304.65 521.3v-2.3M1310.61 521.3v-2.3M1316.58 521.3v-4.4M1322.55 521.3v-2.3M1328.52 521.3v-2.3M1334.49 521.3v-2.3M1340.46 521.3v-2.3M1346.43 521.3v-4.4M1352.4 521.3v-2.3M1358.37 521.3v-2.3M1364.33 521.3v-2.3M1370.3 521.3v-2.3M1376.27 521.3v-4.4M1382.24 521.3v-2.3M1388.21 521.3v-2.3M1394.18 521.3v-2.3M1400.15 521.3v-2.3M1406.12 521.3v-4.4M1412.09 521.3v-2.3M1418.05 521.3v-2.3M1424.02 521.3v-2.3M1429.99 521.3v-2.3M1435.96 521.3v-4.4M1441.93 521.3v-2.3M1447.9 521.3v-2.3M1453.87 521.3v-2.3M1459.84 521.3v-2.3M1465.81 521.3v-4.4M1471.77 521.3v-2.3M1477.74 521.3v-2.3M1483.71 521.3v-2.3M1489.68 521.3v-2.3" stroke="#000" stroke-width="1.3" fill="none"/>
<text transform="translate(949.45 492.55) scale(1.07 1)" font-size="16.9" text-anchor="end">0</text>
<text transform="translate(949.45 423.98) scale(1.07 1)" font-size="16.9" text-anchor="end">200 000</text>
<text transform="translate(949.45 355.41) scale(1.07 1)" font-size="16.9" text-anchor="end">400 000</text>
<text transform="translate(949.45 286.84) scale(1.07 1)" font-size="16.9" text-anchor="end">600 000</text>
<text transform="translate(949.45 218.26) scale(1.07 1)" font-size="16.9" text-anchor="end">800 000</text>
<text transform="translate(949.45 149.69) scale(1.07 1)" font-size="16.9" text-anchor="end">1 000 000</text>
<text transform="translate(949.45 81.12) scale(1.07 1)" font-size="16.9" text-anchor="end">1 200 000</text>
<text transform="translate(949.45 12.55) scale(1.07 1)" font-size="16.9" text-anchor="end">1 400 000</text>
<text transform="translate(958.45 545.3) scale(1.07 1)" font-size="16.9" text-anchor="middle">0</text>
<text transform="translate(988.29 545.3) scale(1.07 1)" font-size="16.9" text-anchor="middle">5</text>
<text transform="translate(1018.14 545.3) scale(1.07 1)" font-size="16.9" text-anchor="middle">10</text>
<text transform="translate(1047.98 545.3) scale(1.07 1)" font-size="16.9" text-anchor="middle">15</text>
<text transform="translate(1077.83 545.3) scale(1.07 1)" font-size="16.9" text-anchor="middle">20</text>
<text transform="translate(1107.67 545.3) scale(1.07 1)" font-size="16.9" text-anchor="middle">25</text>
<text transform="translate(1137.52 545.3) scale(1.07 1)" font-size="16.9" text-anchor="middle">30</text>
<text transform="translate(1167.36 545.3) scale(1.07 1)" font-size="16.9" text-anchor="middle">35</text>
<text transform="translate(1197.21 545.3) scale(1.07 1)" font-size="16.9" text-anchor="middle">40</text>
<text transform="translate(1227.05 545.3) scale(1.07 1)" font-size="16.9" text-anchor="middle">45</text>
<text transform="translate(1256.89 545.3) scale(1.07 1)" font-size="16.9" text-anchor="middle">50</text>
<text transform="translate(1286.74 545.3) scale(1.07 1)" font-size="16.9" text-anchor="middle">55</text>
<text transform="translate(1316.58 545.3) scale(1.07 1)" font-size="16.9" text-anchor="middle">60</text>
<text transform="translate(1346.43 545.3) scale(1.07 1)" font-size="16.9" text-anchor="middle">65</text>
<text transform="translate(1376.27 545.3) scale(1.07 1)" font-size="16.9" text-anchor="middle">70</text>
<text transform="translate(1406.12 545.3) scale(1.07 1)" font-size="16.9" text-anchor="middle">75</text>
<text transform="translate(1435.96 545.3) scale(1.07 1)" font-size="16.9" text-anchor="middle">80</text>
<text transform="translate(1465.81 545.3) scale(1.07 1)" font-size="16.9" text-anchor="middle">85</text>
<text transform="translate(1495.65 545.3) scale(1.07 1)" font-size="16.9" text-anchor="middle">90</text>
<text transform="translate(1228.05 576.4) scale(1.1 1)" font-size="16.9" text-anchor="middle">Time (min)</text>
<text transform="translate(852.8 264.62) rotate(-90) scale(1.03 1.07)" font-size="16.9" text-anchor="middle">ΔR (RFU)</text>
<text transform="translate(964.9 47) scale(1.04 1)" font-size="33.4" text-anchor="start" stroke-width="0.8">b</text>
<path d="M1516.7 8.5H1545.6" stroke="#0000ff" stroke-width="1.2"/>
<text transform="translate(1554 14.95) scale(1.085 1)" font-size="16.9" text-anchor="start">DSM 63536</text>
<path d="M1516.7 29.5H1545.6" stroke="#808080" stroke-width="1.2"/>
<text transform="translate(1554 35.95) scale(1.085 1)" font-size="16.9" text-anchor="start">64000 a/g</text>
<path d="M1516.7 50.5H1545.6" stroke="#000000" stroke-width="1.2"/>
<text transform="translate(1554 56.95) scale(1.085 1)" font-size="16.9" text-anchor="start">6400 a/g</text>
<path d="M1516.7 71.5H1545.6" stroke="#ff00ff" stroke-width="1.2"/>
<text transform="translate(1554 77.95) scale(1.085 1)" font-size="16.9" text-anchor="start">640 a/g</text>
<path d="M1516.7 92.5H1545.6" stroke="#008000" stroke-width="1.2"/>
<text transform="translate(1554 98.95) scale(1.085 1)" font-size="16.9" text-anchor="start">64 a/g</text>
<path d="M1516.7 113.5H1545.6" stroke="#ff0000" stroke-width="1.2"/>
<text transform="translate(1554 119.95) scale(1.085 1)" font-size="16.9" text-anchor="start">NTC</text>
<path d="M543.59 611.8V1127.5M549.58 611.8V1127.5M555.56 611.8V1127.5M561.55 611.8V1127.5M573.53 611.8V1127.5M579.51 611.8V1127.5M585.5 611.8V1127.5M591.49 611.8V1127.5M603.47 611.8V1127.5M609.45 611.8V1127.5M615.44 611.8V1127.5M621.43 611.8V1127.5M633.4 611.8V1127.5M639.39 611.8V1127.5M645.38 611.8V1127.5M651.37 611.8V1127.5M663.34 611.8V1127.5M669.33 611.8V1127.5M675.32 611.8V1127.5M681.31 611.8V1127.5M693.28 611.8V1127.5M699.27 611.8V1127.5M705.26 611.8V1127.5M711.25 611.8V1127.5M723.22 611.8V1127.5M729.21 611.8V1127.5M735.2 611.8V1127.5M741.18 611.8V1127.5M753.16 611.8V1127.5M759.15 611.8V1127.5M765.14 611.8V1127.5M771.12 611.8V1127.5M783.1 611.8V1127.5M789.09 611.8V1127.5M795.07 611.8V1127.5M801.06 611.8V1127.5M813.04 611.8V1127.5M819.03 611.8V1127.5M825.01 611.8V1127.5M831 611.8V1127.5M842.98 611.8V1127.5M848.96 611.8V1127.5M854.95 611.8V1127.5M860.94 611.8V1127.5M872.92 611.8V1127.5M878.9 611.8V1127.5M884.89 611.8V1127.5M890.88 611.8V1127.5M902.85 611.8V1127.5M908.84 611.8V1127.5M914.83 611.8V1127.5M920.82 611.8V1127.5M932.79 611.8V1127.5M938.78 611.8V1127.5M944.77 611.8V1127.5M950.76 611.8V1127.5M962.73 611.8V1127.5M968.72 611.8V1127.5M974.71 611.8V1127.5M980.7 611.8V1127.5M992.67 611.8V1127.5M998.66 611.8V1127.5M1004.65 611.8V1127.5M1010.63 611.8V1127.5M1022.61 611.8V1127.5M1028.6 611.8V1127.5M1034.59 611.8V1127.5M1040.57 611.8V1127.5M1052.55 611.8V1127.5M1058.54 611.8V1127.5M1064.52 611.8V1127.5M1070.51 611.8V1127.5" stroke="#d8d8d8" stroke-width="1.1" fill="none"/>
<path d="M537.6 1093.4H1076.5M537.6 1024.6H1076.5M537.6 955.8H1076.5M537.6 887H1076.5M537.6 818.2H1076.5M537.6 749.4H1076.5M537.6 680.6H1076.5" stroke="#d8d8d8" stroke-width="1.1" fill="none"/>
<path d="M567.54 611.8V1127.5M597.48 611.8V1127.5M627.42 611.8V1127.5M657.36 611.8V1127.5M687.29 611.8V1127.5M717.23 611.8V1127.5M747.17 611.8V1127.5M777.11 611.8V1127.5M807.05 611.8V1127.5M836.99 611.8V1127.5M866.93 611.8V1127.5M896.87 611.8V1127.5M926.81 611.8V1127.5M956.74 611.8V1127.5M986.68 611.8V1127.5M1016.62 611.8V1127.5M1046.56 611.8V1127.5" stroke="#a6a6a6" stroke-width="1.1" fill="none"/>
<g fill="none" stroke-width="1.3" stroke-linejoin="round" stroke-linecap="butt">
<path d="M992.67 1093.4L1076.5 1093.4" stroke="#ff0000" stroke-width="1.2"/>
<path d="M920.82 1093.4L926.81 1093.4L932.79 1093.4L938.78 1093.4L944.77 1093.4L950.76 1093.4L956.74 1093.4L962.73 1093.4L968.72 1093.4L974.71 1093.4L980.7 1093.4L986.68 1093.31L992.67 1093.07L998.66 1092.71L1004.65 1091.89L1010.63 1090.89L1016.62 1089.1L1022.61 1086.35L1028.6 1081.36L1034.59 1074.48L1040.57 1063.13L1046.56 1046.68L1052.55 1025.29L1058.54 997.42L1064.52 964.74L1070.51 925.53L1076.5 883.9" stroke="#008000"/>
<path d="M717.23 1093.4L723.22 1093.4L729.21 1093.4L735.2 1093.4L741.18 1093.4L747.17 1093.4L753.16 1093.4L759.15 1093.4L765.14 1093.4L771.12 1093.4L777.11 1093.4L783.1 1093.4L789.09 1093.4L795.07 1093.4L801.06 1093.4L807.05 1093.4L813.04 1093.4L819.03 1093.4L825.01 1093.4L831 1093.4L836.99 1093.4L842.98 1093.4L848.96 1093.4L854.95 1093.4L860.94 1093.4L866.93 1093.4L872.92 1093.4L878.9 1093.4L884.89 1093.4L890.88 1093.4L896.87 1093.4L902.85 1093.4L908.84 1093.4L914.83 1093.4L920.82 1093.4L926.81 1091.34L932.79 1087.21L938.78 1079.64L944.77 1070.7L950.76 1059.34L956.74 1042.9L962.73 1020.2L968.72 995.02L974.71 967.15L980.7 936.88L986.68 904.2L992.67 871.21L998.66 838.5L1004.65 809.94L1010.63 781.39L1016.62 751.19L1022.61 724.63L1028.6 703.3L1034.59 686.28L1040.57 672.07L1046.56 662.02L1052.55 654.8L1058.54 649.98L1064.52 646.89L1070.51 644.48L1076.5 642.42" stroke="#ff00ff"/>
<path d="M606.46 1093.4L609.45 1093.4L612.45 1092.71L615.44 1091.34L618.44 1084.8L621.43 1075.65L627.42 1052.46L633.4 1017.14L639.39 977.82L645.38 937.57L651.37 904.2L657.36 885.97L663.34 877.37L669.33 872.28L675.32 870.14L681.31 868.77L687.29 868.36L693.28 869.28L699.27 870.83L705.26 871.86L711.25 872.87L717.23 873.93L723.22 875.16L729.21 876.51L735.2 877.97L741.18 879.43L747.17 880.7L753.16 881.98L759.15 883.53L765.14 884.94L771.12 885.78L777.11 886.66L783.1 888.28L789.09 890.1L795.07 891.52L801.06 892.85L807.05 894.16L813.04 895.43L819.03 896.62L825.01 897.78L831 898.91L836.99 900.07L842.98 901.26L848.96 902.47L854.95 903.67L860.94 904.88L866.93 906.06L872.92 907.23L878.9 908.4L884.89 909.56L890.88 910.69L896.87 911.77L902.85 912.8L908.84 913.79L914.83 914.76L920.82 915.71L926.81 916.65L932.79 917.59L938.78 918.52L944.77 919.43L950.76 920.34L956.74 921.23L962.73 922.1L968.72 922.96L974.71 923.81L980.7 924.66L986.68 925.53L992.67 926.41L998.66 927.29L1004.65 928.18L1010.63 929.08L1016.62 930L1022.61 930.96L1028.6 931.96L1034.59 932.96L1040.57 933.92L1046.56 934.82L1052.55 935.65L1058.54 936.44L1064.52 937.2L1070.51 937.92L1076.5 938.6" stroke="#0000ff"/>
<path d="M636.4 1093.4L639.39 1093.4L645.38 1093.4L651.37 1093.4L657.36 1093.4L663.34 1093.4L669.33 1093.4L675.32 1093.4L681.31 1093.4L687.29 1093.4L693.28 1093.4L699.27 1093.4L705.26 1093.4L711.25 1093.4L717.23 1092.71L723.22 1091.34L729.21 1087.9L735.2 1081.7L741.18 1071.73L747.17 1052.46L753.16 1018.13L759.15 973.76L765.14 927.35L771.12 882.67L777.11 848.47L783.1 820.09L789.09 794.81L795.07 773.62L801.06 753.53L807.05 738.39L813.04 725.32L819.03 714.07L825.01 706.06L831 699.93L836.99 696.49L842.98 693.47L848.96 691.44L854.95 692.06L860.94 692.12L866.93 691.61L872.92 691.95L878.9 692.64L884.89 693.5L890.88 695.19L896.87 696.42L902.85 695.91L908.84 696.6L914.83 698.14L920.82 699.62L926.81 700.21L932.79 701.41L938.78 701.93L944.77 702.48L950.76 704.44L956.74 705.71L962.73 706.4L968.72 707.43L974.71 708.46L980.7 709.5L986.68 710.53L992.67 711.56L998.66 712.59L1004.65 713.28L1010.63 715.34L1016.62 716.03L1022.61 716.89L1028.6 717.92L1034.59 719.13L1040.57 720.16L1046.56 721.54L1052.55 722.4L1058.54 723.08L1064.52 724.46L1070.51 725.66L1076.5 726.46" stroke="#000000"/>
<path d="M543.59 1093.4L549.58 1092.88L555.56 1092.37L561.55 1092.2L567.54 1092.2L573.53 1092.37L579.51 1092.88L585.5 1093.23L591.49 1093.4L597.48 1093.4L603.47 1093.4L609.45 1093.4L615.44 1093.4L621.43 1093.4L627.42 1093.4L633.4 1093.4L639.39 1092.37L645.38 1089.79L651.37 1086.35L657.36 1079.64L663.34 1063.54L669.33 1034.3L675.32 991.92L681.31 939.46L687.29 889.06L693.28 846.41L699.27 809.94L705.26 783.8L711.25 764.54L717.23 750.43L723.22 742.52L729.21 735.3L735.2 730.82L741.18 728.42L747.17 726.8L753.16 726.8L759.15 727.73L765.14 727.9L771.12 728.76L777.11 729.79L783.1 731.24L789.09 731.68L795.07 733.23L801.06 734.64L807.05 735.64L813.04 736.84L819.03 738.08L825.01 738.56L831 739.49L836.99 740.8L842.98 741.65L848.96 742.35L854.95 743.01L860.94 743.55L866.93 743.9L872.92 745.27L878.9 745.62L884.89 745.96L890.88 746.3L896.87 747.1L902.85 746.82L908.84 747.68L914.83 748.54L920.82 748.37L926.81 748.88L932.79 749.23L938.78 748.88L944.77 748.88L950.76 749.74L956.74 750.29L962.73 750.09L968.72 750.81L974.71 751.88L980.7 751.53L986.68 752.6L992.67 753.32L998.66 753.53L1004.65 754.39L1010.63 755.25L1016.62 756.28L1022.61 756.35L1028.6 757.66L1034.59 758.34L1040.57 759.03L1046.56 760.41L1052.55 760.41L1058.54 761.44L1064.52 762.82L1070.51 764.19L1076.5 764.88" stroke="#808080"/>
</g>
<path d="M537.75 611.8H1076.5V1127.5" stroke="#000" stroke-width="1.35" fill="none" stroke-linecap="square"/>
<path d="M537.75 611.8V1127.5H1076.5" stroke="#000" stroke-width="1.4" fill="none" stroke-linecap="square"/>
<path d="M537.75 1093.4h4.4M537.75 1024.6h4.4M537.75 955.8h4.4M537.75 887h4.4M537.75 818.2h4.4M537.75 749.4h4.4M537.75 680.6h4.4M543.59 1127.5v-2.3M549.58 1127.5v-2.3M555.56 1127.5v-2.3M561.55 1127.5v-2.3M567.54 1127.5v-4.4M573.53 1127.5v-2.3M579.51 1127.5v-2.3M585.5 1127.5v-2.3M591.49 1127.5v-2.3M597.48 1127.5v-4.4M603.47 1127.5v-2.3M609.45 1127.5v-2.3M615.44 1127.5v-2.3M621.43 1127.5v-2.3M627.42 1127.5v-4.4M633.4 1127.5v-2.3M639.39 1127.5v-2.3M645.38 1127.5v-2.3M651.37 1127.5v-2.3M657.36 1127.5v-4.4M663.34 1127.5v-2.3M669.33 1127.5v-2.3M675.32 1127.5v-2.3M681.31 1127.5v-2.3M687.29 1127.5v-4.4M693.28 1127.5v-2.3M699.27 1127.5v-2.3M705.26 1127.5v-2.3M711.25 1127.5v-2.3M717.23 1127.5v-4.4M723.22 1127.5v-2.3M729.21 1127.5v-2.3M735.2 1127.5v-2.3M741.18 1127.5v-2.3M747.17 1127.5v-4.4M753.16 1127.5v-2.3M759.15 1127.5v-2.3M765.14 1127.5v-2.3M771.12 1127.5v-2.3M777.11 1127.5v-4.4M783.1 1127.5v-2.3M789.09 1127.5v-2.3M795.07 1127.5v-2.3M801.06 1127.5v-2.3M807.05 1127.5v-4.4M813.04 1127.5v-2.3M819.03 1127.5v-2.3M825.01 1127.5v-2.3M831 1127.5v-2.3M836.99 1127.5v-4.4M842.98 1127.5v-2.3M848.96 1127.5v-2.3M854.95 1127.5v-2.3M860.94 1127.5v-2.3M866.93 1127.5v-4.4M872.92 1127.5v-2.3M878.9 1127.5v-2.3M884.89 1127.5v-2.3M890.88 1127.5v-2.3M896.87 1127.5v-4.4M902.85 1127.5v-2.3M908.84 1127.5v-2.3M914.83 1127.5v-2.3M920.82 1127.5v-2.3M926.81 1127.5v-4.4M932.79 1127.5v-2.3M938.78 1127.5v-2.3M944.77 1127.5v-2.3M950.76 1127.5v-2.3M956.74 1127.5v-4.4M962.73 1127.5v-2.3M968.72 1127.5v-2.3M974.71 1127.5v-2.3M980.7 1127.5v-2.3M986.68 1127.5v-4.4M992.67 1127.5v-2.3M998.66 1127.5v-2.3M1004.65 1127.5v-2.3M1010.63 1127.5v-2.3M1016.62 1127.5v-4.4M1022.61 1127.5v-2.3M1028.6 1127.5v-2.3M1034.59 1127.5v-2.3M1040.57 1127.5v-2.3M1046.56 1127.5v-4.4M1052.55 1127.5v-2.3M1058.54 1127.5v-2.3M1064.52 1127.5v-2.3M1070.51 1127.5v-2.3" stroke="#000" stroke-width="1.3" fill="none"/>
<text transform="translate(528.6 1099) scale(1.07 1)" font-size="16.9" text-anchor="end">0</text>
<text transform="translate(528.6 1030.2) scale(1.07 1)" font-size="16.9" text-anchor="end">200 000</text>
<text transform="translate(528.6 961.4) scale(1.07 1)" font-size="16.9" text-anchor="end">400 000</text>
<text transform="translate(528.6 892.6) scale(1.07 1)" font-size="16.9" text-anchor="end">600 000</text>
<text transform="translate(528.6 823.8) scale(1.07 1)" font-size="16.9" text-anchor="end">800 000</text>
<text transform="translate(528.6 755) scale(1.07 1)" font-size="16.9" text-anchor="end">1 000 000</text>
<text transform="translate(528.6 686.2) scale(1.07 1)" font-size="16.9" text-anchor="end">1 200 000</text>
<text transform="translate(528.6 617.4) scale(1.07 1)" font-size="16.9" text-anchor="end">1 400 000</text>
<text transform="translate(537.6 1151.5) scale(1.07 1)" font-size="16.9" text-anchor="middle">0</text>
<text transform="translate(567.54 1151.5) scale(1.07 1)" font-size="16.9" text-anchor="middle">5</text>
<text transform="translate(597.48 1151.5) scale(1.07 1)" font-size="16.9" text-anchor="middle">10</text>
<text transform="translate(627.42 1151.5) scale(1.07 1)" font-size="16.9" text-anchor="middle">15</text>
<text transform="translate(657.36 1151.5) scale(1.07 1)" font-size="16.9" text-anchor="middle">20</text>
<text transform="translate(687.29 1151.5) scale(1.07 1)" font-size="16.9" text-anchor="middle">25</text>
<text transform="translate(717.23 1151.5) scale(1.07 1)" font-size="16.9" text-anchor="middle">30</text>
<text transform="translate(747.17 1151.5) scale(1.07 1)" font-size="16.9" text-anchor="middle">35</text>
<text transform="translate(777.11 1151.5) scale(1.07 1)" font-size="16.9" text-anchor="middle">40</text>
<text transform="translate(807.05 1151.5) scale(1.07 1)" font-size="16.9" text-anchor="middle">45</text>
<text transform="translate(836.99 1151.5) scale(1.07 1)" font-size="16.9" text-anchor="middle">50</text>
<text transform="translate(866.93 1151.5) scale(1.07 1)" font-size="16.9" text-anchor="middle">55</text>
<text transform="translate(896.87 1151.5) scale(1.07 1)" font-size="16.9" text-anchor="middle">60</text>
<text transform="translate(926.81 1151.5) scale(1.07 1)" font-size="16.9" text-anchor="middle">65</text>
<text transform="translate(956.74 1151.5) scale(1.07 1)" font-size="16.9" text-anchor="middle">70</text>
<text transform="translate(986.68 1151.5) scale(1.07 1)" font-size="16.9" text-anchor="middle">75</text>
<text transform="translate(1016.62 1151.5) scale(1.07 1)" font-size="16.9" text-anchor="middle">80</text>
<text transform="translate(1046.56 1151.5) scale(1.07 1)" font-size="16.9" text-anchor="middle">85</text>
<text transform="translate(1076.5 1151.5) scale(1.07 1)" font-size="16.9" text-anchor="middle">90</text>
<text transform="translate(808.05 1182.6) scale(1.1 1)" font-size="16.9" text-anchor="middle">Time (min)</text>
<text transform="translate(431.8 870.15) rotate(-90) scale(1.03 1.07)" font-size="16.9" text-anchor="middle">ΔR (RFU)</text>
<text transform="translate(545.9 650.5) scale(1.06 1)" font-size="34.2" text-anchor="start" stroke-width="0.8">c</text>
<path d="M1098.1 613.5H1126.9" stroke="#0000ff" stroke-width="1.2"/>
<text transform="translate(1135 619.95) scale(1.085 1)" font-size="16.9" text-anchor="start">DSM 63536</text>
<path d="M1098.1 634.5H1126.9" stroke="#808080" stroke-width="1.2"/>
<text transform="translate(1135 640.95) scale(1.085 1)" font-size="16.9" text-anchor="start">64000 a/g</text>
<path d="M1098.1 655.5H1126.9" stroke="#000000" stroke-width="1.2"/>
<text transform="translate(1135 661.95) scale(1.085 1)" font-size="16.9" text-anchor="start">6400 a/g</text>
<path d="M1098.1 676.5H1126.9" stroke="#ff00ff" stroke-width="1.2"/>
<text transform="translate(1135 682.95) scale(1.085 1)" font-size="16.9" text-anchor="start">640 a/g</text>
<path d="M1098.1 697.5H1126.9" stroke="#008000" stroke-width="1.2"/>
<text transform="translate(1135 703.95) scale(1.085 1)" font-size="16.9" text-anchor="start">64 a/g</text>
<path d="M1098.1 718.5H1126.9" stroke="#ff0000" stroke-width="1.2"/>
<text transform="translate(1135 724.95) scale(1.085 1)" font-size="16.9" text-anchor="start">NTC</text>
</svg>
</body></html>
